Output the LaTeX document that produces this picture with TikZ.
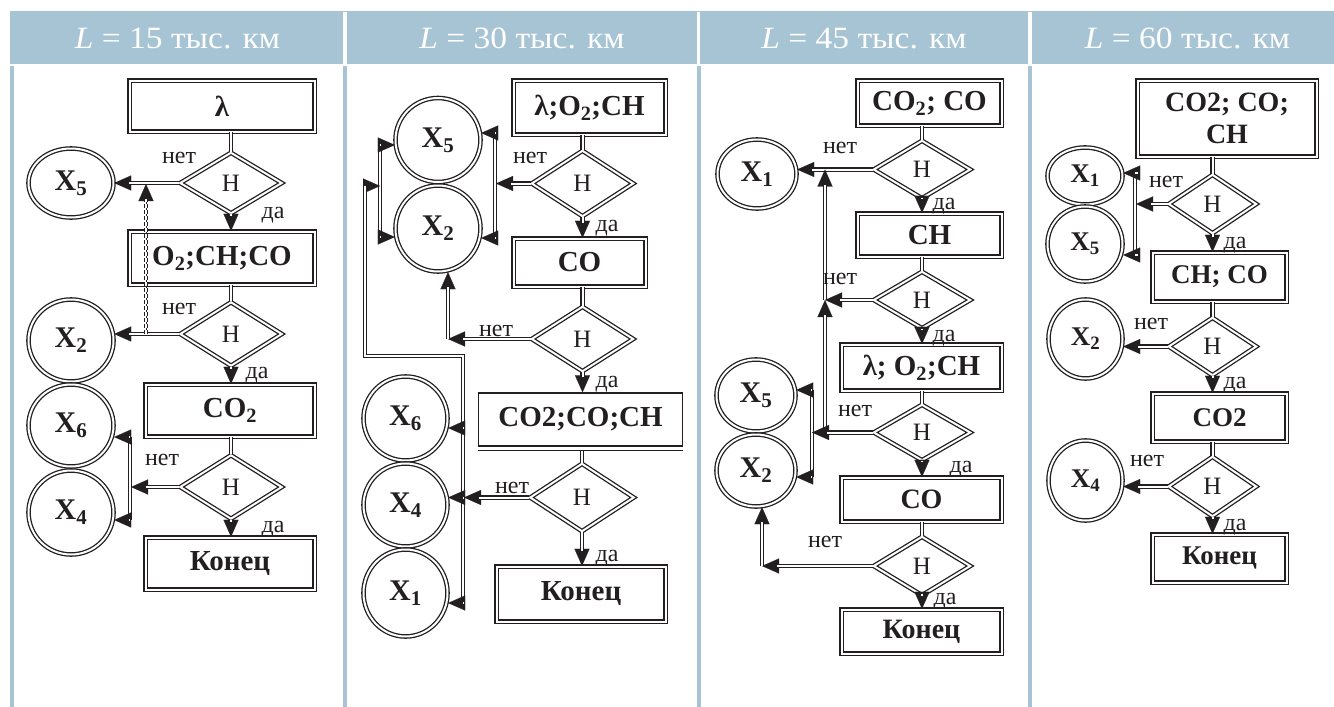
\documentclass[tikz,border=0pt]{standalone}
\usepackage{fontspec}
\setmainfont{Liberation Serif}
\usetikzlibrary{shapes.geometric,arrows.meta}
\definecolor{band}{HTML}{A7C4D4}
\definecolor{ink}{HTML}{231F20}
\tikzset{
  dl/.style={draw=ink, line width=1.3pt, double, double distance=2pt, fill=white},
  box/.style={dl, rectangle, inner sep=0pt, align=center, text=ink, font=\bfseries\fontsize{29}{31}\selectfont},
  sbox/.style={draw=ink, line width=1.3pt, fill=white, rectangle, inner sep=0pt, text=ink, font=\bfseries\fontsize{29}{31}\selectfont},
  dia/.style={dl, diamond, inner sep=0pt, text=ink, font=\fontsize{25}{25}\selectfont},
  xn/.style={dl, ellipse, inner sep=0pt, text=ink, font=\bfseries\fontsize{30}{30}\selectfont},
  xs/.style={xn, font=\bfseries\fontsize{27}{27}\selectfont},
  ln/.style={draw=ink, line width=1.2pt, double, double distance=2pt},
  lnc/.style={ln, shorten >=15pt},
  tipl/.style={draw=ink, line width=0.1pt, -{Triangle[length=17pt,width=15pt]}},
  lbl/.style={inner sep=0pt, text=ink, font=\fontsize{24}{24}\selectfont},
  hd/.style={anchor=base, inner sep=0pt, text=white, font=\fontsize{31}{31}\selectfont},
  sz/.style 2 args={minimum width=#1pt, minimum height=#2pt},
}
\newcommand\hdtxt[1]{\scalebox{1.08}[1]{#1}}
% arrow connector: hairline with tip underneath, double line on top
\newcommand\conn[2][]{\draw[tipl] #2; \draw[lnc,#1] #2;}
\begin{document}
\begin{tikzpicture}[x=1pt,y=-1pt]
\useasboundingbox (0,0) rectangle (1334,707);
% header band and column rules
\fill[band] (10,11) rectangle (1334,64);
\foreach \xx in {345,698.5,1030} \fill[white] (\xx-1.6,12) rectangle (\xx+1.6,64);
\fill[band] (10,66) rectangle (14,707);
\fill[band] (343,66) rectangle (347,707);
\fill[band] (696.5,66) rectangle (700.5,707);
\fill[band] (1028,66) rectangle (1032,707);
\node[hd] (h1) at (177.5,48) {\hdtxt{\textit{L} = 15 тыс. км}};
\node[hd] (h2) at (522,48) {\hdtxt{\textit{L} = 30 тыс. км}};
\node[hd] (h3) at (864,48) {\hdtxt{\textit{L} = 45 тыс. км}};
\node[hd] (h4) at (1187.5,48) {\hdtxt{\textit{L} = 60 тыс. км}};

% ---------------- column 1 ----------------
\node[box, sz={185}{51}] (b11) at (222,106) {λ};
\node[dia, sz={102}{61}] (d11) at (231,183) {Н};
\node[xn, sz={85}{69}] (x15) at (71,183) {X\textsubscript{5}};
\node[box, sz={185}{53}] (b12) at (222,258) {O\textsubscript{2};CH;CO};
\node[dia, sz={102}{64}] (d12) at (231,334) {Н};
\node[xn, sz={85}{82}] (x12) at (71,340.5) {X\textsubscript{2}};
\node[box, sz={169}{52}] (b13) at (230,410.5) {CO\textsubscript{2}};
\node[dia, sz={102}{64}] (d13) at (231,487) {Н};
\node[xn, sz={85}{82}] (x16) at (71,425.5) {X\textsubscript{6}};
\node[xn, sz={85}{84}] (x14) at (71,512.5) {X\textsubscript{4}};
\node[box, sz={169}{52}] (b14) at (230,563.5) {Конец};

\draw[ln] (b11.south -| d11) -- (d11.north);
\conn{(d11.west) -- (d11.west -| x15.east)}
\conn{(d11.south) -- (d11.south |- b12.north)}
\draw[ln] (b12.south -| d12) -- (d12.north);
\conn{(d12.west) -- (d12.west -| x12.east)}
\coordinate (q1) at (146,334);
\coordinate (q2) at (146,184);
\conn[dashed, dash pattern=on 4pt off 2pt]{(q1) -- (q2)}
\conn{(d12.south) -- (d12.south |- b13.north)}
\draw[ln] (b13.south -| d13) -- (d13.north);
\coordinate (k1) at (131,487);
\coordinate (k1a) at (130,437);
\coordinate (k1b) at (130,520);
\draw[ln] (k1a) -- (k1b);
\conn{(d13.west) -- (k1)}
\conn{(k1a) -- (k1a -| x16.east)}
\conn{(k1b) -- (k1b -| x14.east)}
\conn{(d13.south) -- (d13.south |- b14.north)}
\node[lbl] (n11) at (179,158) {нет};
\node[lbl] (y11) at (273,215) {да};
\node[lbl] (n12) at (179,309) {нет};
\node[lbl] (y12) at (257,375) {да};
\node[lbl] (n13) at (162,460) {нет};
\node[lbl] (y13) at (273,529) {да};

% ---------------- column 2 ----------------
\node[box, sz={152}{54}] (b21) at (589.5,107.5) {λ;O\textsubscript{2};CH};
\node[dia, sz={102}{66}] (d21) at (582.5,183.5) {Н};
\node[xn, sz={85}{84}] (x25) at (438,140) {X\textsubscript{5}};
\node[xn, sz={85}{86}] (x22) at (438,228.5) {X\textsubscript{2}};
\node[box, sz={132}{48}] (b22) at (579.5,262.5) {CO};
\node[dia, sz={102}{65}] (d22) at (582.5,339) {Н};
\node[sbox, sz={204}{53}] (b23) at (580.5,419.5) {CO2;CO;CH};
\node[dia, sz={104}{68}] (d23) at (582,497.5) {Н};
\node[box, sz={169}{55}] (b24) at (581,594) {Конец};
\node[xn, sz={84}{84}] (x26) at (405.5,418.5) {X\textsubscript{6}};
\node[xn, sz={84}{83}] (x24) at (405.5,505) {X\textsubscript{4}};
\node[xn, sz={84}{87}] (x21) at (405.5,593) {X\textsubscript{1}};
\draw[draw=ink, line width=1.3pt] ([yshift=-3.5pt]b23.south west) -- ([yshift=-3.5pt]b23.south east);

\draw[ln] (b21.south -| d21) -- (d21.north);
\coordinate (r1) at (496,183.5);
\coordinate (r1a) at (495,133);
\coordinate (r1b) at (495,238);
\draw[ln] (r1a) -- (r1b);
\conn{(d21.west) -- (r1)}
\conn{(r1a) -- (r1a -| x25.east)}
\conn{(r1b) -- (r1b -| x22.east)}
\coordinate (l1a) at (380,145);
\coordinate (l1b) at (380,237);
\coordinate (l1m) at (380,186);
\draw[ln] (l1a) -- (l1b);
\conn{(l1a) -- (l1a -| x25.west)}
\conn{(l1b) -- (l1b -| x22.west)}
\conn{(d21.south) -- (d21.south |- b22.north)}
\draw[ln] (b22.south -| d22) -- (d22.north);
\coordinate (r2) at (448,339);
\conn{(d22.west) -- (r2)}
\conn{(r2) -- (r2 |- x22.south)}
\conn{(d22.south) -- (d22.south |- b23.north)}
\draw[ln] ([yshift=-4pt]b23.south -| d23) -- (d23.north);
\coordinate (r3) at (464,497.5);
\coordinate (r3a) at (463,356);
\coordinate (r3b) at (463,603);
\coordinate (r3c) at (463,428);
\coordinate (lp1) at (365,356);
\coordinate (lp2) at (365,186);
\conn{(r3b) -- (r3a) -- (lp1) -- (lp2) -- (l1m)}
\conn{(d23.west) -- (r3)}
\conn{(r3c) -- (r3c -| x26.east)}
\conn{(r3) -- (r3 -| x24.east)}
\conn{(r3b) -- (r3b -| x21.east)}
\conn{(d23.south) -- (d23.south |- b24.north)}
\node[lbl] (n21) at (530,158) {нет};
\node[lbl] (y21) at (607,228) {да};
\node[lbl] (n22) at (496,331) {нет};
\node[lbl] (y22) at (607,384) {да};
\node[lbl] (n23) at (512,488) {нет};
\node[lbl] (y23) at (607,558) {да};

% ---------------- column 3 ----------------
\node[box, sz={144}{45}] (b31) at (929.5,103) {CO\textsubscript{2}; CO};
\node[dia, sz={97}{58}] (d31) at (922,169.5) {Н};
\node[xn, sz={79}{69}] (x31) at (757,174) {X\textsubscript{1}};
\node[box, sz={144}{43}] (b32) at (929.5,235) {CH};
\node[dia, sz={97}{57}] (d32) at (922,300) {Н};
\node[box, sz={160}{46}] (b33) at (921.5,367.5) {λ; O\textsubscript{2};CH};
\node[dia, sz={97}{56}] (d33) at (922,432.5) {Н};
\node[box, sz={160}{44}, font=\bfseries\fontsize{28}{28}\selectfont] (b34) at (921.5,499.5) {CO};
\node[dia, sz={97}{59}] (d34) at (922,566) {Н};
\node[box, sz={160}{44}, font=\bfseries\fontsize{28}{28}\selectfont] (b35) at (921.5,631.5) {Конец};
\node[xn, sz={79}{72}] (x35) at (756,395.5) {X\textsubscript{5}};
\node[xn, sz={79}{72}] (x32) at (756,470.5) {X\textsubscript{2}};

\draw[ln] (b31.south -| d31) -- (d31.north);
\conn{(d31.west) -- (d31.west -| x31.east)}
\coordinate (s1) at (825,169.5);
\coordinate (s2) at (825,300);
\coordinate (s3) at (825,432.5);
\conn{(s3) -- (s2)}
\conn{(s2) -- (s1)}
\conn{(d31.south) -- (d31.south |- b32.north)}
\draw[ln] (b32.south -| d32) -- (d32.north);
\conn{(d32.west) -- (s2)}
\conn{(d32.south) -- (d32.south |- b33.north)}
\draw[ln] (b33.south -| d33) -- (d33.north);
\coordinate (s4) at (812,432.5);
\coordinate (s4a) at (812,390);
\coordinate (s4b) at (812,477);
\draw[ln] (s4a) -- (s4b);
\conn{(d33.west) -- (s4)}
\conn{(s4a) -- (s4a -| x35.east)}
\conn{(s4b) -- (s4b -| x32.east)}
\conn{(d33.south) -- (d33.south |- b34.north)}
\draw[ln] (b34.south -| d34) -- (d34.north);
\coordinate (s5) at (762,566);
\conn{(d34.west) -- (s5)}
\conn{(s5) -- (s5 |- x32.south)}
\conn{(d34.south) -- (d34.south |- b35.north)}
\node[lbl] (n31) at (840,148) {нет};
\node[lbl] (y31) at (944,206) {да};
\node[lbl] (n32) at (840,279) {нет};
\node[lbl] (y32) at (944,338) {да};
\node[lbl] (n33) at (855,411) {нет};
\node[lbl] (y33) at (961,469) {да};
\node[lbl] (n34) at (825,542) {нет};
\node[lbl] (y34) at (945,601) {да};

% ---------------- column 4 ----------------
\node[box, sz={179}{76}, font=\bfseries\fontsize{28}{32}\selectfont] (b41) at (1227,118.5) {CO2; CO;\\CH};
\node[dia, sz={88}{59}] (d41) at (1212.5,204) {Н};
\node[xs, sz={75}{57}] (x41) at (1085,176) {X\textsubscript{1}};
\node[xs, sz={75}{75}] (x45) at (1085,244) {X\textsubscript{5}};
\node[box, sz={134}{49}, font=\bfseries\fontsize{27}{27}\selectfont] (b42) at (1219.5,277) {CH; CO};
\node[dia, sz={88}{58}] (d42) at (1212.5,346.5) {Н};
\node[xs, sz={74}{79}] (x42) at (1085.5,339) {X\textsubscript{2}};
\node[box, sz={134}{48}, font=\bfseries\fontsize{27}{27}\selectfont] (b43) at (1219.5,417.5) {CO2};
\node[dia, sz={88}{60}] (d43) at (1212.5,486.5) {Н};
\node[xs, sz={74}{80}] (x44) at (1085.5,480.5) {X\textsubscript{4}};
\node[box, sz={134}{48}, font=\bfseries\fontsize{27}{27}\selectfont] (b44) at (1219.5,558.5) {Конец};

\draw[ln] (b41.south -| d41) -- (d41.north);
\coordinate (t1) at (1136,204);
\coordinate (t1a) at (1135,173);
\coordinate (t1b) at (1135,255);
\draw[ln] (t1a) -- (t1b);
\conn{(d41.west) -- (t1)}
\conn{(t1a) -- (t1a -| x41.east)}
\conn{(t1b) -- (t1b -| x45.east)}
\conn{(d41.south) -- (d41.south |- b42.north)}
\draw[ln] (b42.south -| d42) -- (d42.north);
\conn{(d42.west) -- (d42.west -| x42.east)}
\conn{(d42.south) -- (d42.south |- b43.north)}
\draw[ln] (b43.south -| d43) -- (d43.north);
\conn{(d43.west) -- (d43.west -| x44.east)}
\conn{(d43.south) -- (d43.south |- b44.north)}
\node[lbl] (n41) at (1166,182) {нет};
\node[lbl] (y41) at (1235,245) {да};
\node[lbl] (n42) at (1151,324) {нет};
\node[lbl] (y42) at (1235,385) {да};
\node[lbl] (n43) at (1147,461) {нет};
\node[lbl] (y43) at (1235,527) {да};
\end{tikzpicture}
\end{document}
